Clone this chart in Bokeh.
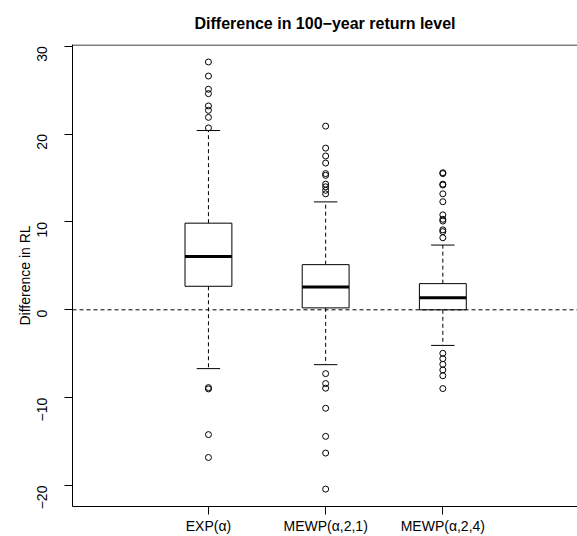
import math
from bokeh.plotting import figure
from bokeh.models import FixedTicker, Range1d
from bokeh.embed import file_html
from bokeh.resources import INLINE

# ---- data ----
categories = ["EXP(α)", "MEWP(α,2,1)", "MEWP(α,2,4)"]
positions = [1, 2, 3]
q1 = [2.68, 0.22, 0.0]
median = [6.08, 2.6, 1.36]
q3 = [9.86, 5.14, 2.98]
whisker_low = [-6.69, -6.24, -4.05]
whisker_high = [20.4, 12.28, 7.37]
outliers_exp = [28.2, 26.6, 25.1, 24.6, 23.2, 22.7, 21.9, 20.7,
                -8.85, -9.0, -14.2, -16.8]
outliers_mewp21 = [20.9, 18.4, 17.5, 16.7, 15.5, 15.3, 14.3, 14.0, 13.6, 13.2,
                   -7.26, -8.39, -8.92, -11.2, -14.4, -16.3, -20.4]
outliers_mewp24 = [15.6, 15.5, 14.3, 14.2, 13.2, 12.3, 10.8, 10.3, 10.1, 9.1, 8.9, 8.2,
                   -4.95, -5.56, -6.2, -6.85, -7.5, -8.96]
y_ticks = [-20, -10, 0, 10, 20, 30]
title_text = "Difference in 100\u2212year return level"
y_label = "Difference in RL"

FONT = "Liberation Sans"
box_half = 0.2
cap_half = 0.1
Y0, Y1 = -22.38, 30.19
X0, X1 = -0.16, 4.149

p = figure(width=577, height=536,
           x_range=Range1d(X0, X1), y_range=Range1d(Y0, Y1),
           output_backend="svg", toolbar_location=None,
           min_border_left=72, min_border_right=0,
           min_border_top=44, min_border_bottom=28)
p.outline_line_color = None
p.grid.visible = False
p.background_fill_color = "white"
p.border_fill_color = "white"

# title
p.title.text = title_text
p.title.align = "center"
p.title.text_font = FONT
p.title.text_font_size = "16px"
p.title.text_font_style = "bold"
p.title.text_color = "black"
p.title.standoff = 25

# x axis
xa = p.xaxis[0]
xa.ticker = FixedTicker(ticks=positions)
xa.major_label_overrides = {pos: c for pos, c in zip(positions, categories)}
xa.major_tick_out = 8
xa.major_tick_in = 0
xa.minor_tick_out = 0
xa.minor_tick_in = 0
xa.major_label_standoff = 3
xa.major_label_text_font = FONT
xa.major_label_text_font_size = "14px"
xa.major_label_text_color = "black"
xa.axis_line_color = "black"
xa.major_tick_line_color = "black"

# y axis
ya = p.yaxis[0]
ya.ticker = FixedTicker(ticks=y_ticks)
ya.major_label_overrides = {t: ("\u2212" + str(-t) if t < 0 else str(t)) for t in y_ticks}
ya.major_tick_out = 8
ya.major_tick_in = 0
ya.minor_tick_out = 0
ya.minor_tick_in = 0
ya.major_label_orientation = math.pi / 2
ya.major_label_standoff = 22
ya.major_label_text_font = FONT
ya.major_label_text_font_size = "14px"
ya.major_label_text_color = "black"
ya.axis_label = y_label
ya.axis_label_text_font = FONT
ya.axis_label_text_font_size = "14px"
ya.axis_label_text_font_style = "normal"
ya.axis_label_text_color = "black"
ya.axis_label_standoff = -3
ya.axis_line_color = "black"
ya.major_tick_line_color = "black"

# top frame line (inside the frame, just below its top edge)
p.segment(x0=[X0], y0=[Y1 - 0.06], x1=[X1], y1=[Y1 - 0.06],
          line_color="black", line_width=1)

# whiskers
p.segment(x0=positions, y0=q3, x1=positions, y1=whisker_high,
          line_color="black", line_width=1, line_dash="4 3")
p.segment(x0=positions, y0=q1, x1=positions, y1=whisker_low,
          line_color="black", line_width=1, line_dash="4 3")
# caps
p.segment(x0=[x - cap_half for x in positions], y0=whisker_high,
          x1=[x + cap_half for x in positions], y1=whisker_high,
          line_color="black", line_width=1)
p.segment(x0=[x - cap_half for x in positions], y0=whisker_low,
          x1=[x + cap_half for x in positions], y1=whisker_low,
          line_color="black", line_width=1)
# boxes
p.quad(left=[x - box_half for x in positions], right=[x + box_half for x in positions],
       bottom=q1, top=q3, fill_color="white", line_color="black", line_width=1)
# medians
p.segment(x0=[x - box_half for x in positions], y0=median,
          x1=[x + box_half for x in positions], y1=median,
          line_color="black", line_width=3)

# outliers
ox, oy = [], []
for pos, vals in zip(positions, [outliers_exp, outliers_mewp21, outliers_mewp24]):
    ox += [pos] * len(vals)
    oy += vals
p.scatter(x=ox, y=oy, marker="circle", size=6, fill_color=None,
          line_color="black", line_width=1)

# zero reference line
p.segment(x0=[X0], y0=[0], x1=[X1], y1=[0], line_color="black",
          line_width=1, line_dash="4 3")

open("out.html", "w").write(file_html(p, INLINE))
